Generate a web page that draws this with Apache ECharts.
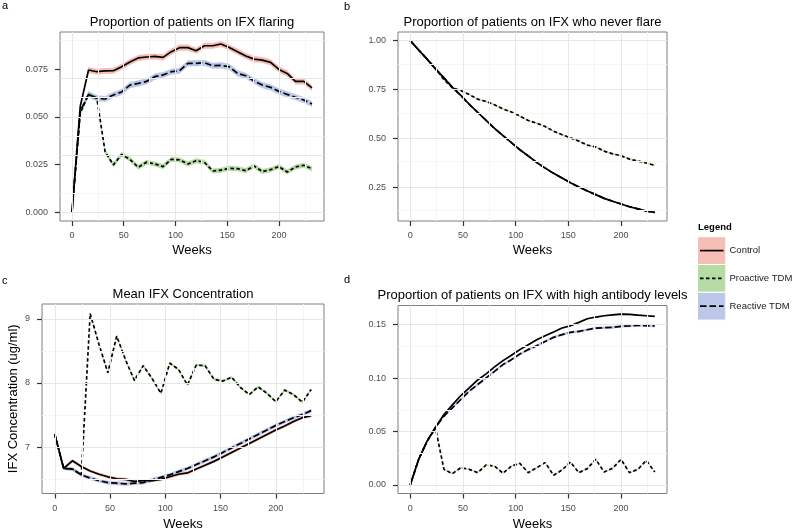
<!DOCTYPE html>
<html><head><meta charset="utf-8">
<script src="https://cdn.jsdelivr.net/npm/echarts@6/dist/echarts.min.js"></script>
<style>html,body{margin:0;padding:0;background:#fff}#c{width:800px;height:532px}</style>
</head><body><div id="c"></div><script>
// ---------- data ----------
const weeks = [0,8,16,24,32,40,48,56,64,72,80,88,96,104,112,120,128,136,144,152,160,168,176,184,192,200,208,216,224,232];
const groups = ['Control','Proactive TDM','Reactive TDM'];

// a: Proportion of patients on IFX flaring
const aControl   = [0,0.0556,0.0745,0.0736,0.074,0.0741,0.0762,0.0787,0.0808,0.0813,0.0816,0.0811,0.0841,0.0862,0.0862,0.0846,0.0872,0.0872,0.0881,0.0863,0.0841,0.0818,0.0802,0.0797,0.0785,0.0748,0.0727,0.0685,0.0685,0.0651];
const aProactive = [0,0.052,0.0617,0.0597,0.0317,0.0248,0.0303,0.0277,0.0235,0.0262,0.0253,0.0239,0.0277,0.0274,0.0253,0.027,0.0262,0.0216,0.022,0.023,0.0228,0.0218,0.0242,0.0213,0.0223,0.0239,0.0211,0.0237,0.0246,0.0228];
const aReactive  = [0,0.053,0.0617,0.0597,0.0593,0.0614,0.063,0.0666,0.0675,0.0685,0.071,0.0719,0.0736,0.0741,0.078,0.078,0.0783,0.0767,0.0769,0.0762,0.0727,0.0715,0.0687,0.0666,0.0654,0.0633,0.0617,0.0602,0.0588,0.0567];

// b: Proportion of patients on IFX who never flare
const bControl   = [1.00,0.952,0.905,0.855,0.809,0.761,0.719,0.674,0.632,0.591,0.55,0.513,0.477,0.441,0.409,0.376,0.347,0.32,0.296,0.272,0.25,0.23,0.211,0.192,0.177,0.163,0.149,0.138,0.127,0.12];
const bProactive = [1.00,0.952,0.905,0.855,0.80,0.758,0.744,0.724,0.70,0.688,0.671,0.65,0.634,0.613,0.591,0.577,0.56,0.536,0.518,0.502,0.485,0.465,0.455,0.434,0.42,0.41,0.393,0.383,0.373,0.361];
const bReactive  = [1.00,0.952,0.905,0.855,0.809,0.761,0.719,0.674,0.632,0.591,0.55,0.513,0.477,0.441,0.409,0.376,0.347,0.32,0.296,0.272,0.25,0.23,0.211,0.192,0.177,0.163,0.149,0.138,0.127,0.12];

// c: Mean IFX Concentration
const cControl   = [7.2,6.67,6.79,6.70,6.63,6.58,6.54,6.51,6.50,6.47,6.48,6.48,6.50,6.54,6.58,6.60,6.66,6.72,6.78,6.85,6.92,6.99,7.06,7.13,7.20,7.27,7.33,7.40,7.46,7.49];
const cProactive = [7.2,6.67,6.66,6.57,9.08,8.6,8.16,8.73,8.36,8.04,8.27,8.07,7.84,8.31,8.21,7.97,8.28,8.27,8.06,8.03,8.09,7.93,7.82,7.94,7.84,7.71,7.89,7.82,7.70,7.90];
const cReactive  = [7.2,6.67,6.66,6.57,6.52,6.48,6.45,6.44,6.43,6.44,6.45,6.49,6.53,6.57,6.62,6.67,6.73,6.79,6.85,6.92,6.99,7.06,7.13,7.20,7.27,7.34,7.40,7.46,7.51,7.57];

// d: Proportion of patients on IFX with high antibody levels
const dControl   = [0,0.024,0.041,0.054,0.066,0.075,0.0837,0.0909,0.0983,0.104,0.1105,0.1164,0.1214,0.1267,0.1313,0.136,0.1397,0.1432,0.1469,0.149,0.1522,0.1556,0.1572,0.1584,0.1593,0.16,0.1597,0.159,0.1584,0.1578];
const dProactive = [0,0.024,0.041,0.053,0.0146,0.0106,0.0162,0.0146,0.0115,0.0187,0.0177,0.0109,0.0177,0.0202,0.0115,0.0162,0.0209,0.009,0.014,0.0215,0.0115,0.0153,0.024,0.0121,0.0156,0.024,0.0115,0.0146,0.023,0.0121];
const dReactive  = [0,0.024,0.041,0.054,0.0644,0.0722,0.08,0.0878,0.094,0.1002,0.1064,0.1127,0.1173,0.1226,0.1267,0.1304,0.1344,0.1382,0.1407,0.1429,0.1438,0.1453,0.1469,0.1472,0.1475,0.1485,0.1488,0.1494,0.1491,0.1488];

// ribbon half-widths (Control, Proactive, Reactive)
const aBand = [0.0016,0.0013,0.0016];
const bBand = [0.003,0.004,0.003];
const cBand = [0.025,0.02,0.03];
const dBand = [0.0008,0.0006,0.0012];

// tick labels
const xTicks  = [0,50,100,150,200];
const xMinor  = [25,75,125,175,225];
const aYTicks = [0,0.025,0.05,0.075];
const aYMinor = [0.0125,0.0375,0.0625,0.0875];
const bYTicks = [0.25,0.5,0.75,1.0];
const bYMinor = [0.125,0.375,0.625,0.875];
const cYTicks = [7,8,9];
const cYMinor = [6.5,7.5,8.5];
const dYTicks = [0,0.05,0.1,0.15];
const dYMinor = [0.025,0.075,0.125];

// ---------- styling ----------
const FONT = '"Liberation Sans", Arial, Helvetica, sans-serif';
const bandColors = ['rgba(237,127,109,0.5)','rgba(109,185,77,0.5)','rgba(121,145,213,0.5)'];
const legendFill = ['#f6bfb6','#b6dca6','#bcc8ea'];
const lineDash = ['solid',[3.5,2.5],[6.5,3]];
const xRange = [-11.6,243.6];

const panels = [
  {letter:'a', title:'Proportion of patients on IFX flaring', grid:{left:60,top:32,width:264,height:189},
   y:[-0.0046,0.0944], yTicks:aYTicks, yMinor:aYMinor, fmt:v=>v.toFixed(3), vals:[aControl,aProactive,aReactive], band:aBand, yName:''},
  {letter:'b', title:'Proportion of patients on IFX who never flare', grid:{left:398,top:32,width:269,height:189},
   y:[0.076,1.044], yTicks:bYTicks, yMinor:bYMinor, fmt:v=>v.toFixed(2), vals:[bControl,bProactive,bReactive], band:bBand, yName:''},
  {letter:'c', title:'Mean IFX Concentration', grid:{left:42,top:304,width:282,height:189.5},
   y:[6.28,9.23], yTicks:cYTicks, yMinor:cYMinor, fmt:v=>String(v), vals:[cControl,cProactive,cReactive], band:cBand, yName:'IFX Concentration (ug/ml)'},
  {letter:'d', title:'Proportion of patients on IFX with high antibody levels', grid:{left:398,top:305.5,width:269,height:189},
   y:[-0.008,0.168], yTicks:dYTicks, yMinor:dYMinor, fmt:v=>v.toFixed(2), vals:[dControl,dProactive,dReactive], band:dBand, yName:''}
];

const grids=[], xAxes=[], yAxes=[], series=[], graphics=[];
panels.forEach((p,i)=>{
  grids.push(Object.assign({show:true, backgroundColor:'#fff', borderColor:'#7f7f7f', borderWidth:1, containLabel:false}, p.grid));
  xAxes.push({
    type:'value', gridIndex:i, min:xRange[0], max:xRange[1],
    axisLine:{show:false, onZero:false}, splitLine:{show:false},
    axisTick:{show:true, length:5, lineStyle:{color:'#333', width:1.2}, customValues:xTicks},
    axisLabel:{customValues:xTicks, color:'#4d4d4d', fontSize:9, fontFamily:FONT, margin:10.5},
    name:'Weeks', nameLocation:'middle', nameGap:i<2?23:24.5,
    nameTextStyle:{fontSize:13, fontFamily:FONT, color:'#000'}
  });
  yAxes.push({
    type:'value', gridIndex:i, min:p.y[0], max:p.y[1],
    axisLine:{show:false, onZero:false}, splitLine:{show:false},
    axisTick:{show:true, length:5, lineStyle:{color:'#333', width:1.2}, customValues:p.yTicks},
    axisLabel:{customValues:p.yTicks, formatter:p.fmt, color:'#4d4d4d', fontSize:9, fontFamily:FONT, margin:12},
    name:p.yName, nameLocation:'middle', nameGap:22.5, nameRotate:90,
    nameTextStyle:{fontSize:13, fontFamily:FONT, color:'#000'}
  });
  // grid lines (minor + major) via markLine on an invisible helper series
  const ml = [];
  xMinor.forEach(v=>ml.push({xAxis:v, lineStyle:{color:'#f5f5f5'}}));
  p.yMinor.forEach(v=>ml.push({yAxis:v, lineStyle:{color:'#f5f5f5'}}));
  xTicks.forEach(v=>ml.push({xAxis:v, lineStyle:{color:'#e6e6e6'}}));
  p.yTicks.forEach(v=>ml.push({yAxis:v, lineStyle:{color:'#e6e6e6'}}));
  series.push({type:'line', xAxisIndex:i, yAxisIndex:i, z:1, silent:true, symbol:'none',
    data:weeks.map((w,k)=>[w,p.vals[0][k]]), lineStyle:{opacity:0},
    markLine:{silent:true, symbol:['none','none'], label:{show:false}, animation:false,
      lineStyle:{type:'solid', width:1}, emphasis:{disabled:true}, data:ml}});
  // ribbons (polygon through the axis scales)
  groups.forEach((g,gi)=>{
    const v = p.vals[gi], hw = p.band[gi];
    const rows = weeks.map((w,k)=>[w, v[k]-hw, v[k]+hw]);
    series.push({type:'custom', xAxisIndex:i, yAxisIndex:i, z:2, silent:true,
      encode:{x:0, y:[1,2]},
      data:rows,
      renderItem:(params, api)=>{
        if (params.dataIndex !== 0) return null;
        const up = rows.map(r=>api.coord([r[0], r[2]]));
        const lo = rows.map(r=>api.coord([r[0], r[1]])).reverse();
        return {type:'polygon', shape:{points:up.concat(lo)}, style:{fill:bandColors[gi], stroke:null}};
      }});
  });
  // lines
  groups.forEach((g,gi)=>{
    series.push({type:'line', name:g, xAxisIndex:i, yAxisIndex:i, z:3, silent:true, symbol:'none',
      data:weeks.map((w,k)=>[w, p.vals[gi][k]]),
      lineStyle:{color:'#000', width:1.7, type:lineDash[gi]}});
  });
  // title
  const cx = p.grid.left + p.grid.width/2;
  graphics.push({type:'text', x:cx, y:p.grid.top-10, style:{text:p.title, fontSize:13, fontFamily:FONT, fill:'#000', align:'center', verticalAlign:'middle', textAlign:'center', textVerticalAlign:'middle'}});
});
const letterPos = [[2,6],[344,7],[2,281],[344,280]];
panels.forEach((p,i)=>{
  graphics.push({type:'text', x:letterPos[i][0], y:letterPos[i][1], style:{text:p.letter, fontSize:11, fontFamily:FONT, fill:'#000', align:'left', verticalAlign:'middle', textAlign:'left', textVerticalAlign:'middle'}});
});
// legend
graphics.push({type:'text', x:698, y:227, style:{text:'Legend', fontSize:9.5, fontWeight:'bold', fontFamily:FONT, fill:'#000', align:'left', verticalAlign:'middle', textAlign:'left', textVerticalAlign:'middle'}});
groups.forEach((g,gi)=>{
  const y0 = 236.7 + gi*27.8;
  graphics.push({type:'rect', shape:{x:697.5, y:y0, width:28.3, height:27.8}, style:{fill:legendFill[gi], stroke:'#fff', lineWidth:1}});
  graphics.push({type:'line', shape:{x1:700, y1:y0+13.9, x2:723.5, y2:y0+13.9}, style:{stroke:'#000', lineWidth:1.7, lineDash:lineDash[gi]==='solid'?null:lineDash[gi]}});
  graphics.push({type:'text', x:729.5, y:y0+13.9, style:{text:g, fontSize:9.5, fontFamily:FONT, fill:'#1a1a1a', align:'left', verticalAlign:'middle', textAlign:'left', textVerticalAlign:'middle'}});
});

const chart = echarts.init(document.getElementById('c'), null, {renderer:'canvas'});
chart.setOption({
  animation:false,
  backgroundColor:'#fff',
  grid:grids, xAxis:xAxes, yAxis:yAxes, series:series, graphic:graphics
});
</script></body></html>
